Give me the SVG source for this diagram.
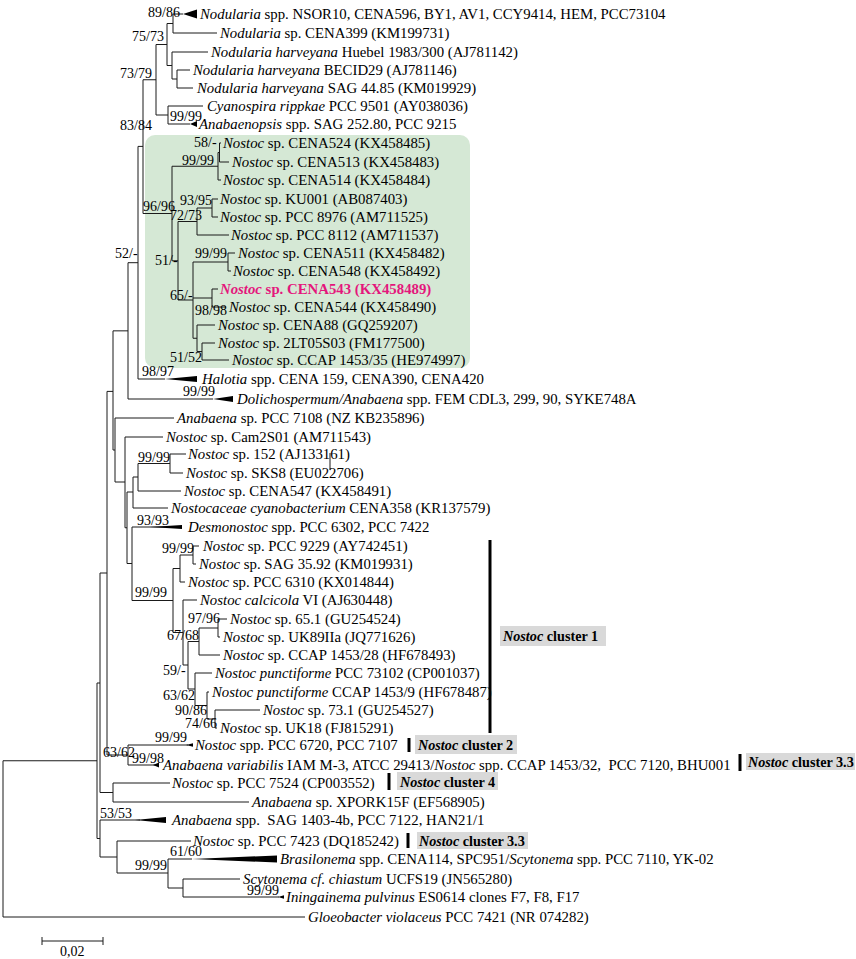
<svg xmlns="http://www.w3.org/2000/svg" width="856" height="959" viewBox="0 0 856 959">
<style>
.t{font-family:"Liberation Serif","Times New Roman",serif;font-size:14.8px;fill:#000}
.s{font-family:"Liberation Serif","Times New Roman",serif;font-size:14px;fill:#000}
.i{font-style:italic}
.br{fill:none;stroke:#1a1a1a;stroke-width:1}
.w{fill:#000}
.bar{stroke:#000;stroke-width:3}
.cb{fill:#d9d9d9}
.cl{font-family:"Liberation Serif","Times New Roman",serif;font-size:14.2px;font-weight:bold;fill:#000}
</style>
<rect width="856" height="959" fill="#fff"/>
<rect id="highlight" x="145" y="135" width="325" height="233" rx="10" fill="#d5e8d5"/>
<g id="connectors" class="br">
<path d="M173,14V33M177,70V88M172,52V79M167,23.5V65.5M168,106V124M156,44.5V115M143,79.75V213.5M138,146.4V379M128,262.7V399M113,330.85V450"/>
<path d="M219.5,143V162M218,152.5V180M212,199V217M197,208V235M193,262V338.25M178,221.5V300M172,166.25V260.75M228,253V271M212,289V307M197,325V351.5M202,343V360"/>
<path d="M115,418V482M125,437V527.75M127,492V563.5M133,477V508M138,463.5V491M170,454V473M132,527V600.5M173,568.5V632.5M180,555V582M193,546V564M183,600V665M188,641.5V689M199,628V655M218,619V637M195,673V705.5M207,692V719M215,710V728"/>
<path d="M107,391.4V755M128,745V765M100,573V792.5M113,783V802M97,683V838.5M100,820V857M117,841V873M168,859V888M183,879V897M3,760.75V917"/>
<path d="M173,14H183M173,33H217M177,70H190M177,88H193M172,52H208M172,79H177M167,23.5H173M167,65.5H172M168,106H203M168,124H190M156,44.5H167M156,115H168M143,79.75H156M143,213.5H172M138,146.4H143M138,379H165M128,262.7H138M128,399H213M113,330.85H128M113,450H115"/>
<path d="M219.5,143H221M219.5,162H229M218,152.5H219.5M218,180H221M212,199H218M212,217H218M197,208H212M197,235H229M172,166.25H218M172,260.75H178M178,221.5H197M178,300H193M193,262H228M193,298H212M193,338.25H197M228,253H235M228,271H231M212,289H218M212,307H226M197,325H215M197,351.5H202M202,343H215M202,360H229"/>
<path d="M115,418H174M115,482H125M125,437H163M125,527.75H127M127,492H133M127,563.5H132M133,477H138M133,508H168M138,463.5H170M138,491H181M170,454H186M170,473H183M132,527H165M132,600.5H173M173,568.5H180M173,632.5H183M180,555H193M180,582H185M193,546H199M193,564H196M183,600H197M183,665H188M188,641.5H199M188,689H195M199,628H218M199,655H220M218,619H227M218,637H220M195,673H212M195,705.5H207M207,692H209M207,719H215M215,710H260M215,728H217"/>
<path d="M107,391.4H113M107,755H128M128,745H188M128,765H155M100,573H107M100,792.5H113M113,783H170M113,802H249M97,683H100M97,838.5H100M100,820H140M100,857H117M117,841H191M117,873H168M168,859H192M168,888H183M183,879H240M183,897H279M3,760.75H97M3,917H305"/>
<path d="M330,453V470"/>
</g>
<g id="support-values" class="s">
<text x="148" y="17">89/86</text>
<text x="132" y="41">75/73</text>
<text x="120" y="78">73/79</text>
<text x="170" y="121">99/99</text>
<text x="120" y="130">83/84</text>
<text x="194" y="147">58/-</text>
<text x="182" y="165">99/99</text>
<text x="180" y="205">93/95</text>
<text x="143" y="211">96/96</text>
<text x="170" y="220">72/73</text>
<text x="115" y="258">52/-</text>
<text x="195" y="258">99/99</text>
<text x="155" y="265">51/-</text>
<text x="170" y="300">65/-</text>
<text x="195" y="315">98/98</text>
<text x="170" y="362">51/52</text>
<text x="142" y="376">98/97</text>
<text x="183" y="396">99/99</text>
<text x="138" y="462">99/99</text>
<text x="137" y="525">93/93</text>
<text x="162" y="553">99/99</text>
<text x="135" y="597">99/99</text>
<text x="188" y="623">97/96</text>
<text x="167" y="640">67/68</text>
<text x="163" y="675">59/-</text>
<text x="163" y="700">63/62</text>
<text x="175" y="715">90/86</text>
<text x="185" y="728">74/66</text>
<text x="155" y="742">99/99</text>
<text x="103" y="757">63/62</text>
<text x="132" y="763">99/98</text>
<text x="100" y="818">53/53</text>
<text x="170" y="856">61/60</text>
<text x="135" y="870">99/99</text>
<text x="247" y="895">99/99</text>
</g>
<g id="leaf-0"><polygon class="w" points="183,14 197,9.5 197,18.5"/><text class="t" x="200" y="19"><tspan class="i">Nodularia</tspan> spp. NSOR10, CENA596, BY1, AV1, CCY9414, HEM, PCC73104</text></g>
<g id="leaf-1"><text class="t" x="220" y="38"><tspan class="i">Nodularia</tspan> sp. CENA399 (KM199731)</text></g>
<g id="leaf-2"><text class="t" x="211" y="57"><tspan class="i">Nodularia harveyana</tspan> Huebel 1983/300 (AJ781142)</text></g>
<g id="leaf-3"><text class="t" x="193" y="75"><tspan class="i">Nodularia harveyana</tspan> BECID29 (AJ781146)</text></g>
<g id="leaf-4"><text class="t" x="197" y="93"><tspan class="i">Nodularia harveyana</tspan> SAG 44.85 (KM019929)</text></g>
<g id="leaf-5"><text class="t" x="207" y="111"><tspan class="i">Cyanospira rippkae</tspan> PCC 9501 (AY038036)</text></g>
<g id="leaf-6"><polygon class="w" points="190,124 197,121 197,127"/><text class="t" x="199" y="129"><tspan class="i">Anabaenopsis</tspan> spp. SAG 252.80, PCC 9215</text></g>
<g id="leaf-7"><text class="t" x="223" y="148"><tspan class="i">Nostoc</tspan> sp. CENA524 (KX458485)</text></g>
<g id="leaf-8"><text class="t" x="232" y="167"><tspan class="i">Nostoc</tspan> sp. CENA513 (KX458483)</text></g>
<g id="leaf-9"><text class="t" x="223" y="185"><tspan class="i">Nostoc</tspan> sp. CENA514 (KX458484)</text></g>
<g id="leaf-10"><text class="t" x="220" y="204"><tspan class="i">Nostoc</tspan> sp. KU001 (AB087403)</text></g>
<g id="leaf-11"><text class="t" x="220" y="222"><tspan class="i">Nostoc</tspan> sp. PCC 8976 (AM711525)</text></g>
<g id="leaf-12"><text class="t" x="231" y="240"><tspan class="i">Nostoc</tspan> sp. PCC 8112 (AM711537)</text></g>
<g id="leaf-13"><text class="t" x="238" y="258"><tspan class="i">Nostoc</tspan> sp. CENA511 (KX458482)</text></g>
<g id="leaf-14"><text class="t" x="233" y="276"><tspan class="i">Nostoc</tspan> sp. CENA548 (KX458492)</text></g>
<g id="leaf-15"><text class="t" x="220" y="294" style="fill:#e4177c;font-weight:bold"><tspan class="i">Nostoc</tspan> sp. CENA543 (KX458489)</text></g>
<g id="leaf-16"><text class="t" x="229" y="312"><tspan class="i">Nostoc</tspan> sp. CENA544 (KX458490)</text></g>
<g id="leaf-17"><text class="t" x="218" y="330"><tspan class="i">Nostoc</tspan> sp. CENA88 (GQ259207)</text></g>
<g id="leaf-18"><text class="t" x="218" y="348"><tspan class="i">Nostoc</tspan> sp. 2LT05S03 (FM177500)</text></g>
<g id="leaf-19"><text class="t" x="232" y="365"><tspan class="i">Nostoc</tspan> sp. CCAP 1453/35 (HE974997)</text></g>
<g id="leaf-20"><polygon class="w" points="165,379 197,376 197,382"/><text class="t" x="202" y="384"><tspan class="i">Halotia</tspan> spp. CENA 159, CENA390, CENA420</text></g>
<g id="leaf-21"><polygon class="w" points="213,399 233,396 233,402"/><text class="t" x="237" y="404"><tspan class="i">Dolichospermum/Anabaena</tspan> spp. FEM CDL3, 299, 90, SYKE748A</text></g>
<g id="leaf-22"><text class="t" x="177" y="423"><tspan class="i">Anabaena</tspan> sp. PCC 7108 (NZ KB235896)</text></g>
<g id="leaf-23"><text class="t" x="166" y="442"><tspan class="i">Nostoc</tspan> sp. Cam2S01 (AM711543)</text></g>
<g id="leaf-24"><text class="t" x="188" y="459"><tspan class="i">Nostoc</tspan> sp. 152 (AJ133161)</text></g>
<g id="leaf-25"><text class="t" x="186" y="478"><tspan class="i">Nostoc</tspan> sp. SKS8 (EU022706)</text></g>
<g id="leaf-26"><text class="t" x="184" y="496"><tspan class="i">Nostoc</tspan> sp. CENA547 (KX458491)</text></g>
<g id="leaf-27"><text class="t" x="171" y="513"><tspan class="i">Nostocaceae cyanobacterium</tspan> CENA358 (KR137579)</text></g>
<g id="leaf-28"><polygon class="w" points="150,527 182,525 182,529"/><text class="t" x="188" y="532"><tspan class="i">Desmonostoc</tspan> spp. PCC 6302, PCC 7422</text></g>
<g id="leaf-29"><text class="t" x="203" y="551"><tspan class="i">Nostoc</tspan> sp. PCC 9229 (AY742451)</text></g>
<g id="leaf-30"><text class="t" x="199" y="569"><tspan class="i">Nostoc</tspan> sp. SAG 35.92 (KM019931)</text></g>
<g id="leaf-31"><text class="t" x="188" y="587"><tspan class="i">Nostoc</tspan> sp. PCC 6310 (KX014844)</text></g>
<g id="leaf-32"><text class="t" x="200" y="605"><tspan class="i">Nostoc calcicola</tspan> VI (AJ630448)</text></g>
<g id="leaf-33"><text class="t" x="230" y="624"><tspan class="i">Nostoc</tspan> sp. 65.1 (GU254524)</text></g>
<g id="leaf-34"><text class="t" x="223" y="642"><tspan class="i">Nostoc</tspan> sp. UK89IIa (JQ771626)</text></g>
<g id="leaf-35"><text class="t" x="223" y="660"><tspan class="i">Nostoc</tspan> sp. CCAP 1453/28 (HF678493)</text></g>
<g id="leaf-36"><text class="t" x="215" y="678"><tspan class="i">Nostoc punctiforme</tspan> PCC 73102 (CP001037)</text></g>
<g id="leaf-37"><text class="t" x="212" y="697"><tspan class="i">Nostoc punctiforme</tspan> CCAP 1453/9 (HF678487)</text></g>
<g id="leaf-38"><text class="t" x="263" y="715"><tspan class="i">Nostoc</tspan> sp. 73.1 (GU254527)</text></g>
<g id="leaf-39"><text class="t" x="220" y="733"><tspan class="i">Nostoc</tspan> sp. UK18 (FJ815291)</text></g>
<g id="leaf-40"><polygon class="w" points="186,745 193,743.3 193,746.7"/><text class="t" x="195" y="750"><tspan class="i">Nostoc</tspan> spp. PCC 6720, PCC 7107</text></g>
<g id="leaf-41"><polygon class="w" points="153,765 159,762.5 159,767.5"/><text class="t" x="163" y="770" xml:space="preserve"><tspan class="i">Anabaena variabilis</tspan> IAM M-3, ATCC 29413/<tspan class="i">Nostoc</tspan> spp. CCAP 1453/32,  PCC 7120, BHU001</text></g>
<g id="leaf-42"><text class="t" x="172" y="788"><tspan class="i">Nostoc</tspan> sp. PCC 7524 (CP003552)</text></g>
<g id="leaf-43"><text class="t" x="252" y="807"><tspan class="i">Anabaena</tspan> sp. XPORK15F (EF568905)</text></g>
<g id="leaf-44"><polygon class="w" points="135,820 166,817 166,823"/><text class="t" x="172" y="825" xml:space="preserve"><tspan class="i">Anabaena</tspan> spp.  SAG 1403-4b, PCC 7122, HAN21/1</text></g>
<g id="leaf-45"><text class="t" x="193" y="846"><tspan class="i">Nostoc</tspan> sp. PCC 7423 (DQ185242)</text></g>
<g id="leaf-46"><polygon class="w" points="192,859 277,855.5 277,862.5"/><text class="t" x="280" y="864"><tspan class="i">Brasilonema</tspan> spp. CENA114, SPC951/<tspan class="i">Scytonema</tspan> spp. PCC 7110, YK-02</text></g>
<g id="leaf-47"><text class="t" x="243" y="884"><tspan class="i">Scytonema cf. chiastum</tspan> UCFS19 (JN565280)</text></g>
<g id="leaf-48"><polygon class="w" points="278,897 284,895.3 284,898.7"/><text class="t" x="286" y="902"><tspan class="i">Iningainema pulvinus</tspan> ES0614 clones F7, F8, F17</text></g>
<g id="leaf-49"><text class="t" x="308" y="922"><tspan class="i">Gloeobacter violaceus</tspan> PCC 7421 (NR 074282)</text></g>
<g id="cluster-1"><line class="bar" x1="490" y1="540" x2="490" y2="733"/><rect class="cb" x="500" y="626" width="106" height="20"/><text class="cl" x="503" y="641"><tspan class="i">Nostoc</tspan> cluster 1</text></g>
<g id="cluster-2"><line class="bar" x1="409" y1="738" x2="409" y2="752"/><rect class="cb" x="415" y="735" width="102" height="19"/><text class="cl" x="418" y="750"><tspan class="i">Nostoc</tspan> cluster 2</text></g>
<g id="cluster-3-3a"><line class="bar" x1="740" y1="754" x2="740" y2="771"/><rect class="cb" x="746" y="753" width="109" height="17"/><text class="cl" x="748" y="767"><tspan class="i">Nostoc</tspan> cluster 3.3</text></g>
<g id="cluster-4"><line class="bar" x1="389" y1="773" x2="389" y2="790"/><rect class="cb" x="397" y="772" width="101" height="18"/><text class="cl" x="400" y="787"><tspan class="i">Nostoc</tspan> cluster 4</text></g>
<g id="cluster-3-3b"><line class="bar" x1="408" y1="833" x2="408" y2="848"/><rect class="cb" x="417" y="832" width="111" height="17"/><text class="cl" x="419" y="846"><tspan class="i">Nostoc</tspan> cluster 3.3</text></g>
<g id="scale-bar"><path class="br" d="M42,941H103M42,937V945M103,937V945"/><text class="s" x="60" y="956">0,02</text></g>
</svg>
